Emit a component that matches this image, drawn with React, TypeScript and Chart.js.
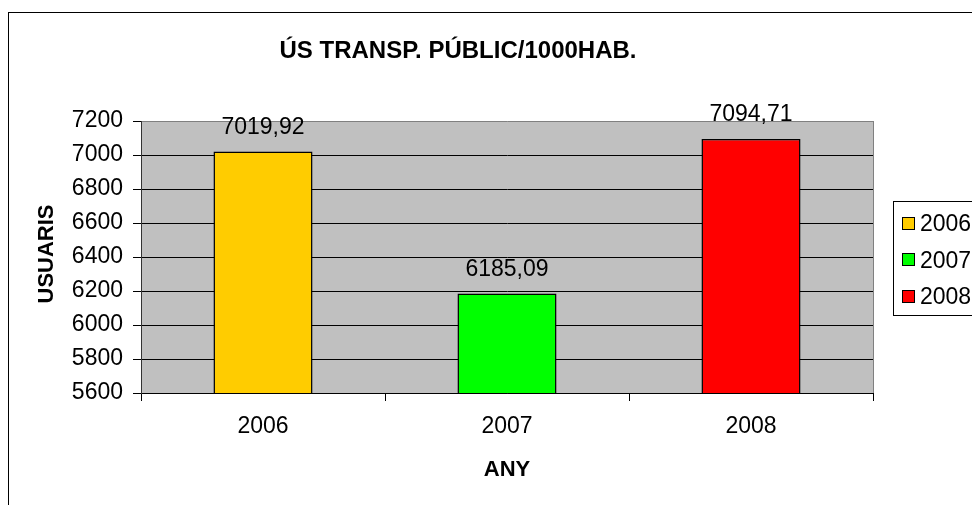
import React, { useEffect, useRef } from "react";
import { Chart, registerables } from "chart.js";

Chart.register(...registerables);

const categories = ["2006", "2007", "2008"];
const usuaris = [7019.92, 6185.09, 7094.71];
const barColors = ["#FFCC00", "#00FF00", "#FF0000"];
const yTicks = [5600, 5800, 6000, 6200, 6400, 6600, 6800, 7000, 7200];
const titleText = "ÚS TRANSP. PÚBLIC/1000HAB.";
const yTitle = "USUARIS";
const xTitle = "ANY";

const FONT = '"Liberation Sans", Arial, sans-serif';

const fmt = (v: number) => v.toFixed(2).replace(".", ",");

const decorPlugin = {
  id: "decor",
  beforeDraw(chart: any) {
    const { ctx, chartArea } = chart;
    ctx.save();
    ctx.fillStyle = "#FFFFFF";
    ctx.fillRect(0, 0, chart.width, chart.height);
    ctx.fillStyle = "#C0C0C0";
    ctx.fillRect(chartArea.left, chartArea.top, chartArea.right - chartArea.left, chartArea.bottom - chartArea.top);
    ctx.restore();
  },
  afterDraw(chart: any) {
    const { ctx, chartArea } = chart;
    ctx.save();
    // outer chart border
    ctx.strokeStyle = "#000000";
    ctx.lineWidth = 1;
    ctx.strokeRect(8.5, 12.5, 1200, 1200);
    // plot right border
    ctx.strokeStyle = "#808080";
    ctx.beginPath();
    ctx.moveTo(Math.round(chartArea.right) + 0.5, chartArea.top);
    ctx.lineTo(Math.round(chartArea.right) + 0.5, chartArea.bottom);
    ctx.stroke();

    // title
    ctx.fillStyle = "#000000";
    ctx.font = `bold 24px ${FONT}`;
    ctx.textAlign = "center";
    ctx.textBaseline = "alphabetic";
    ctx.fillText(titleText, 458, 58);

    // x title
    ctx.font = `bold 22px ${FONT}`;
    ctx.fillText(xTitle, (chartArea.left + chartArea.right) / 2, 476);

    // y title
    ctx.save();
    ctx.translate(53, 254);
    ctx.rotate(-Math.PI / 2);
    ctx.fillText(yTitle, 0, 0);
    ctx.restore();

    // data labels
    const meta = chart.getDatasetMeta(0);
    ctx.font = `23px ${FONT}`;
    meta.data.forEach((bar: any, i: number) => {
      ctx.fillText(fmt(usuaris[i]), bar.x, bar.y - 18);
    });

    // legend
    ctx.strokeStyle = "#000000";
    ctx.lineWidth = 1;
    ctx.strokeRect(893.5, 201.5, 200, 114);
    ctx.textAlign = "left";
    categories.forEach((c, i) => {
      const cy = 223 + i * 36.5;
      ctx.fillStyle = barColors[i];
      ctx.fillRect(902, Math.round(cy - 6.5), 13, 13);
      ctx.strokeStyle = "#000000";
      ctx.strokeRect(902.5, Math.round(cy - 6.5) + 0.5, 12, 12);
      ctx.fillStyle = "#000000";
      ctx.fillText(c, 920, cy + 8);
    });
    ctx.restore();
  },
};

export default function App() {
  const ref = useRef<HTMLCanvasElement | null>(null);
  useEffect(() => {
    if (!ref.current) return;
    const chart = new Chart(ref.current, {
      type: "bar",
      data: {
        labels: categories,
        datasets: [
          {
            label: yTitle,
            data: usuaris,
            backgroundColor: barColors,
            borderColor: "#000000",
            borderWidth: 1.5,
            barPercentage: 0.406,
            categoryPercentage: 1,
          },
        ],
      },
      options: {
        responsive: false,
        animation: false,
        layout: { padding: { top: 121, right: 99, left: 0, bottom: 0 } },
        plugins: {
          legend: { display: false },
          title: { display: false },
          tooltip: { enabled: false },
        },
        scales: {
          x: {
            afterFit: (s: any) => {
              s.height = 112;
            },
            grid: {
              offset: true,
              drawOnChartArea: false,
              drawTicks: true,
              tickLength: 8,
              color: "#000000",
            },
            border: { display: true, color: "#000000", width: 1 },
            ticks: {
              color: "#000000",
              font: { family: FONT, size: 23 },
              padding: 12,
              maxRotation: 0,
            },
          },
          y: {
            min: yTicks[0],
            max: yTicks[yTicks.length - 1],
            afterFit: (s: any) => {
              s.width = 141;
            },
            afterBuildTicks: (s: any) => {
              s.ticks = yTicks.map((v) => ({ value: v }));
            },
            grid: {
              color: (c: any) => (c.tick && c.tick.value === 7200 ? "#808080" : "#000000"),
              tickColor: "#000000",
              tickLength: 8,
              lineWidth: 1,
            },
            border: { display: true, color: "#333333", width: 1 },
            ticks: {
              color: "#000000",
              font: { family: FONT, size: 23 },
              padding: 10,
              callback: (v: any) => String(v),
            },
          },
        },
      },
      plugins: [decorPlugin],
    });
    return () => chart.destroy();
  }, []);
  return (
    <div style={{ position: "absolute", left: 0, top: 0, width: 972, height: 505 }}>
      <canvas ref={ref} width={972} height={505} style={{ display: "block" }} />
    </div>
  );
}
